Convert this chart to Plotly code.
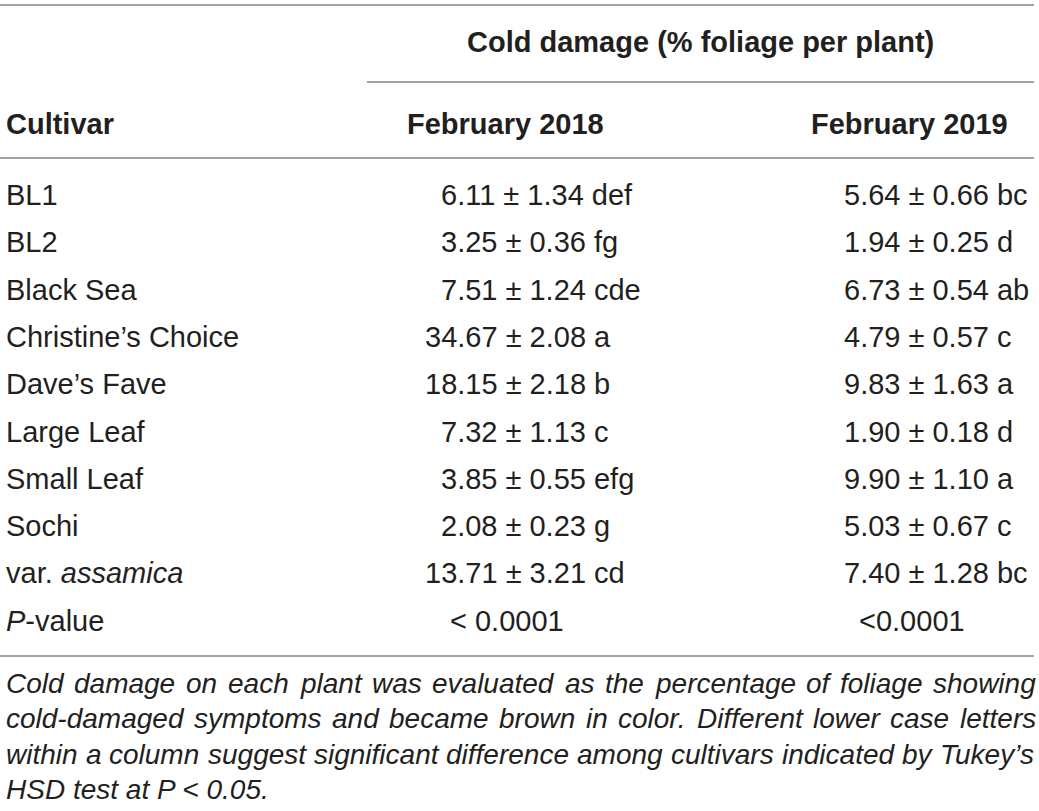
import plotly.graph_objects as go

# Table values
cultivars = ["BL1", "BL2", "Black Sea", "Christine’s Choice", "Dave’s Fave",
             "Large Leaf", "Small Leaf", "Sochi", "var. <i>assamica</i>"]
mean_2018 = [6.11, 3.25, 7.51, 34.67, 18.15, 7.32, 3.85, 2.08, 13.71]
se_2018 = [1.34, 0.36, 1.24, 2.08, 2.18, 1.13, 0.55, 0.23, 3.21]
letters_2018 = ["def", "fg", "cde", "a", "b", "c", "efg", "g", "cd"]
mean_2019 = [5.64, 1.94, 6.73, 4.79, 9.83, 1.90, 9.90, 5.03, 7.40]
se_2019 = [0.66, 0.25, 0.54, 0.57, 1.63, 0.18, 1.10, 0.67, 1.28]
letters_2019 = ["bc", "d", "ab", "c", "a", "d", "a", "c", "bc"]
p_label = "<i>P</i>-value"
p_values = ["< 0.0001", "<0.0001"]

group_header = "Cold damage (% foliage per plant)"
col_headers = ["Cultivar", "February 2018", "February 2019"]

footnote_lines = [
    "Cold damage on each plant was evaluated as the percentage of foliage showing",
    "cold-damaged symptoms and became brown in color. Different lower case letters",
    "within a column suggest significant difference among cultivars indicated by Tukey’s",
    "HSD test at P < 0.05.",
]

W, H = 1039, 811
FONT = "Liberation Sans"
FS = 29
FS_NOTE = 28
TXT = "#231f20"
RULE = "#858585"

# Arial / Liberation Sans advance widths (1/1000 em) for the footnote justification
widths = dict(zip("abcdefghijklmnopqrstuvwxyz",
                  [556, 556, 500, 556, 556, 278, 556, 556, 222, 222, 500, 222, 833,
                   556, 556, 556, 556, 333, 500, 278, 556, 500, 722, 500, 500, 500]))
widths.update({"C": 722, "D": 722, "H": 722, "P": 667, "S": 667, "T": 611,
               ".": 278, "-": 333, "’": 222, "<": 584, " ": 278, "0": 556, "5": 556})


def text_width(s, size):
    return sum(widths.get(ch, 556) for ch in s) * size / 1000.0


def ann(x, y, text, anchor="left", size=FS, bold=False, italic=False):
    return dict(x=x, y=y, xref="x", yref="y", text=text, showarrow=False,
                xanchor=anchor, yanchor="middle",
                font=dict(family=FONT, size=size, color=TXT,
                          weight="bold" if bold else "normal",
                          style="italic" if italic else "normal"))


# layout positions (pixels)
x_left = 4
col1_x, col2_x = 423, 826          # start of a two-digit mean
p_x = [448, 857]
row0_y, row_step = 195, 47.3
note0_y, note_step = 683, 35.6
digit_w = 0.556 * FS

annotations = []
annotations.append(ann(700, 42, group_header, anchor="center", bold=True))
annotations.append(ann(x_left, 124, col_headers[0], bold=True))
annotations.append(ann(505, 124, col_headers[1], anchor="center", bold=True))
annotations.append(ann(909, 124, col_headers[2], anchor="center", bold=True))


def cell(m, s, l):
    return f"{m:.2f} ± {s:.2f} {l}"


for i, name in enumerate(cultivars):
    y = row0_y + i * row_step
    annotations.append(ann(x_left, y, name))
    for base, m, s, l in ((col1_x, mean_2018[i], se_2018[i], letters_2018[i]),
                          (col2_x, mean_2019[i], se_2019[i], letters_2019[i])):
        pad = 2 - len(str(int(m)))
        annotations.append(ann(base + pad * digit_w, y, cell(m, s, l)))

y_p = row0_y + len(cultivars) * row_step
annotations.append(ann(x_left, y_p, p_label))
annotations.append(ann(p_x[0], y_p, p_values[0]))
annotations.append(ann(p_x[1], y_p, p_values[1]))

# justified footnote
note_left, note_right = 4, 1034
for j, line in enumerate(footnote_lines):
    y = note0_y + j * note_step
    if j == len(footnote_lines) - 1:
        annotations.append(ann(note_left, y, line.replace("P <", "P &lt;"),
                               size=FS_NOTE, italic=True))
        continue
    words = line.split(" ")
    total = sum(text_width(w, FS_NOTE) for w in words)
    gap = (note_right - note_left - total) / (len(words) - 1)
    x = note_left
    for w in words:
        annotations.append(ann(x, y, w, size=FS_NOTE, italic=True))
        x += text_width(w, FS_NOTE) + gap

rules = [(0, 1034, 5), (367, 1034, 82), (0, 1034, 158), (0, 1034, 656)]
shapes = [dict(type="line", xref="x", yref="y", x0=a, x1=b, y0=y, y1=y,
               line=dict(color=RULE, width=1.5)) for a, b, y in rules]

fig = go.Figure()
fig.add_trace(go.Scatter(x=[0, W], y=[0, H], mode="markers",
                         marker=dict(opacity=0), hoverinfo="skip", showlegend=False))
fig.update_layout(
    width=W, height=H,
    margin=dict(l=0, r=0, t=0, b=0),
    paper_bgcolor="white", plot_bgcolor="white",
    xaxis=dict(range=[0, W], visible=False, fixedrange=True),
    yaxis=dict(range=[H, 0], visible=False, fixedrange=True),
    annotations=annotations,
    shapes=shapes,
    showlegend=False,
)

# drop the default page margin so the figure sits at the window's corner
fig.write_html("out.html", config={"displayModeBar": False},
               post_script="document.body.style.margin='0';")
